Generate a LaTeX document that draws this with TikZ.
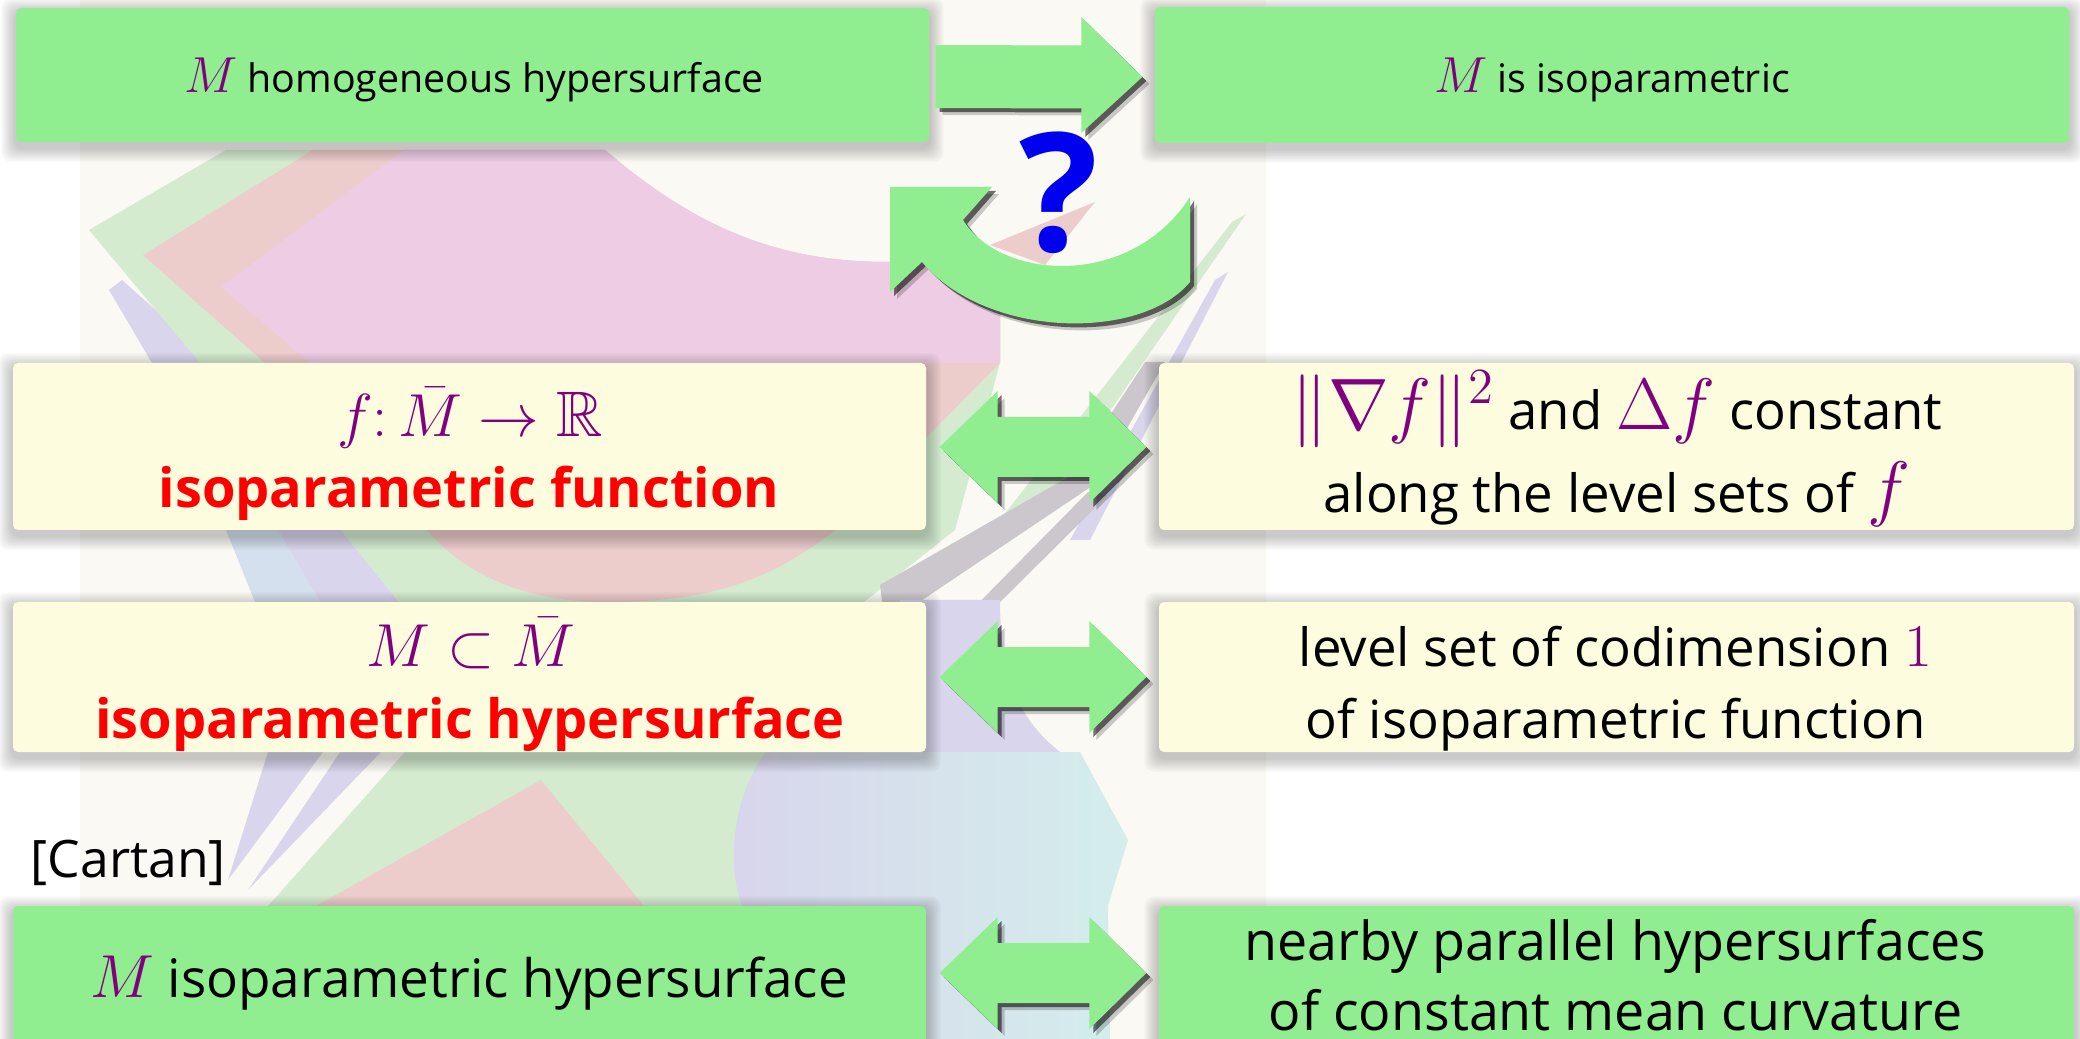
\documentclass[tikz,border=0pt]{standalone}
\usepackage{amsmath,amssymb}
\usepackage[no-math]{fontspec}
\setmainfont{Open Sans}
\usetikzlibrary{calc}

\definecolor{boxgreen}{HTML}{90EE90}
\definecolor{boxcream}{HTML}{FDFCDE}
\definecolor{mathpurple}{HTML}{800080}
\definecolor{alertred}{HTML}{FF0000}
\definecolor{qblue}{HTML}{0000F0}
\definecolor{paper}{HTML}{FBF9F4}
\definecolor{pgreen}{HTML}{D4EBD0}
\definecolor{pred}{HTML}{EDCDCC}
\definecolor{pmag}{HTML}{EECCE4}
\definecolor{plav}{HTML}{D8D5EC}
\definecolor{pblue}{HTML}{D5E0EE}
\definecolor{pcyan}{HTML}{D4EEEC}
\definecolor{pgrey}{HTML}{CBC7CD}

% purple math at a given size
\newcommand{\mth}[2]{{\fontsize{#1}{#1}\selectfont\color{mathpurple}$#2$}}

\pgfdeclarelayer{art}
\pgfdeclarelayer{shade}
\pgfsetlayers{art,shade,main}

\tikzset{
  panel/.style={rounded corners=0.5mm, inner sep=0pt},
  greenpanel/.style={panel, fill=boxgreen},
  creampanel/.style={panel, fill=boxcream},
  line/.style={inner sep=0pt, anchor=base, text=black},
  alert/.style={line, text=alertred, font=\fontsize{15.4}{18}\selectfont\bfseries},
}

% soft shadow under a panel
\newcommand{\panelshade}[1]{%
  \begin{pgfonlayer}{shade}
    \foreach \k in {1,...,7}{
      \fill[black, opacity=0.03, rounded corners=1mm]
        ($(#1.south west)+(-2*\k,5+2*\k)$) rectangle ($(#1.north east)+(2*\k,5-2*\k)$);
    }
  \end{pgfonlayer}}

% green block arrow with heads at both ends, tip to tip
\newcommand{\dblarrowpath}[2]{(#1) -- ($(#1)+(58,-56)$) -- ($(#1)+(58,-30)$) -- ($(#2)+(-57,-30)$)
  -- ($(#2)+(-57,-56)$) -- (#2) -- ($(#2)+(-57,56)$) -- ($(#2)+(-57,30)$)
  -- ($(#1)+(58,30)$) -- ($(#1)+(58,56)$) -- cycle}
\newcommand{\dblarrow}[3]{%
  \coordinate (#3sa) at ($(#1)+(4,4)$);  \coordinate (#3sb) at ($(#2)+(4,4)$);
  \coordinate (#3ta) at ($(#1)+(7,7)$);  \coordinate (#3tb) at ($(#2)+(7,7)$);
  \begin{pgfonlayer}{shade}
    \fill[black, opacity=0.2] \dblarrowpath{#3ta}{#3tb};
    \fill[black, opacity=0.55] \dblarrowpath{#3sa}{#3sb};
  \end{pgfonlayer}
  \fill[boxgreen] \dblarrowpath{#1}{#2};}

% green block arrow with a flat tail: tail centre, tip
\newcommand{\singlearrowpath}[2]{($(#1)+(0,-31.5)$) -- ($(#2)+(-61,-31.5)$) -- ($(#2)+(-61,-60)$) -- (#2)
  -- ($(#2)+(-61,56)$) -- ($(#2)+(-61,31.5)$) -- ($(#1)+(0,31.5)$) -- cycle}

% upper edge of the pink area, below the top panel
\def\pinkcurve{(605,150) .. controls (700,232) and (785,262) .. (887,262) -- (1000,262)}

\begin{document}
\begin{tikzpicture}[x=0.1mm, y=-0.1mm]
\useasboundingbox (0,0) rectangle (2080,1039);

% ---------- pale backdrop artwork ----------
\begin{pgfonlayer}{art}
  \fill[white] (0,0) rectangle (2080,1039);
  \fill[paper] (80,0) rectangle (1266,1039);
  % slivers at the far left
  \fill[plav] (109,290) -- (122,280) -- (215,363) -- (152,363) -- cycle;
  \fill[pblue] (226,530) -- (278,530) -- (320,602) -- (255,602) -- cycle;
  \fill[plav] (278,530) -- (341,530) -- (399,602) -- (320,602) -- cycle;
  % outer green chevron
  \fill[pgreen] (226,150) -- \pinkcurve -- (1000,363) -- (955,530) -- (864,602) -- (399,602)
    -- (341,530) -- (200,363) -- (89,230) -- cycle;
  % red band and bowl
  \fill[pred] (313,150) -- \pinkcurve -- (1000,363) -- (835,530)
    .. controls (760,590) and (690,602) .. (605,602) .. controls (520,602) and (460,570) .. (427,530)
    -- (265,363) -- (143,255) -- cycle;
  % pink centre
  \fill[pmag] (404,150) -- \pinkcurve -- (1000,363) -- (310,363) -- (221,287) -- cycle;
  \fill[pred] (990,245) -- (1095,202) -- (1045,265) -- cycle;
  % slivers on the right
  \fill[pgreen] (1246,214) -- (1232,222) -- (1000,520) -- (1045,505) -- cycle;
  \fill[plav] (1228,272) -- (1215,280) -- (1070,540) -- (1090,540) -- cycle;
  \fill[pgrey] (1145,362) -- (1165,362) -- (1095,484) -- (885,625) -- (880,585) -- (1070,476) -- cycle;
  \fill[pgrey] (1088,492) -- (1108,495) -- (975,627) -- (955,627) -- cycle;
  \fill[plav] (900,600) -- (1000,600) .. controls (1000,680) and (1020,720) .. (1060,752) -- (900,752) -- cycle;
  % lower part
  \fill[pgreen] (405,752) -- (766,752) -- (742,906) -- (268,906) -- cycle;
  \fill[pred] (541,780) -- (644,906) -- (316,906) -- cycle;
  \fill[plav] (268,752) -- (323,752) -- (228,880) -- cycle;
  \fill[plav] (340,752) -- (381,752) -- (248,890) -- cycle;
  \shade[left color=plav, right color=pcyan] (766,752) .. controls (730,800) and (728,870) .. (742,906)
    -- (760,1039) -- (1110,1039) -- (1108,906) -- (1128,840) -- (1080,752) -- cycle;
\end{pgfonlayer}

% ---------- panels ----------
\node[greenpanel, minimum width=91.3mm, minimum height=13.4mm] (b1) at (472.5,75) {};
\node[greenpanel, minimum width=91.4mm, minimum height=13.6mm] (b2) at (1612,75) {};
\node[creampanel, minimum width=91.3mm, minimum height=16.7mm] (b3) at (469.5,446.5) {};
\node[creampanel, minimum width=91.5mm, minimum height=16.7mm] (b3r) at (1616.5,446.5) {};
\node[creampanel, minimum width=91.3mm, minimum height=15mm] (b4) at (469.5,677) {};
\node[creampanel, minimum width=91.5mm, minimum height=15mm] (b4r) at (1616.5,677) {};
\node[greenpanel, minimum width=91.3mm, minimum height=14mm] (b5) at (469.5,976) {};
\node[greenpanel, minimum width=91.5mm, minimum height=14mm] (b6) at (1616.5,976) {};
\foreach \b in {b1,b2,b3,b3r,b4,b4r,b5,b6}{\panelshade{\b}}

% ---------- panel texts ----------
\node[line, font=\fontsize{11.2}{13}\selectfont] (t1) at (474,93)
  {\mth{13.7}{M} homogeneous hypersurface};
\node[line, font=\fontsize{11.2}{13}\selectfont] (t2) at (1612,93)
  {\mth{13.7}{M} is isoparametric};

\node[line] (t3a) at (470,437) {\mth{18.3}{f{:}\,\bar M\to\mathbb{R}}};
\node[alert] (t3b) at (469,508) {isoparametric function};

\node[line] (t4a) at (471,667) {\mth{18.3}{M\subset\bar M}};
\node[alert] (t4b) at (470,738) {isoparametric hypersurface};

\node[line, font=\fontsize{15}{18}\selectfont] (t3c) at (1617,430)
  {\mth{22}{\|\nabla f\|^2} and \mth{22}{\Delta f} constant};
\node[line, font=\fontsize{15}{18}\selectfont] (t3d) at (1617,513)
  {along the level sets of \mth{22}{f}};

\node[line, font=\fontsize{15}{18}\selectfont] (t4c) at (1615.5,667)
  {level set of codimension \mth{17}{1}};
\node[line, font=\fontsize{15}{18}\selectfont] (t4d) at (1615.5,738)
  {of isoparametric function};

\node[line, font=\fontsize{15.1}{18}\selectfont] (t5) at (469,997)
  {\mth{17}{M} isoparametric hypersurface};
\node[line, font=\fontsize{15.3}{18}\selectfont] (t6a) at (1615.5,960)
  {nearby parallel hypersurfaces};
\node[line, font=\fontsize{15.3}{18}\selectfont] (t6b) at (1615.5,1030)
  {of constant mean curvature};

\node[font=\fontsize{14.7}{17}\selectfont, inner sep=0pt, anchor=base west] (cartan) at (30,877) {[Cartan]};

% ---------- implication arrow on top ----------
\coordinate (s1) at ($(b1.east)+(6,1.5)$);
\coordinate (e1) at ($(b2.west)+(-12,2)$);
\coordinate (s1a) at ($(s1)+(4,4)$);  \coordinate (e1a) at ($(e1)+(4,4)$);
\coordinate (s1b) at ($(s1)+(7,7)$);  \coordinate (e1b) at ($(e1)+(7,7)$);
\begin{pgfonlayer}{shade}
  \fill[black, opacity=0.2] \singlearrowpath{s1b}{e1b};
  \fill[black, opacity=0.55] \singlearrowpath{s1a}{e1a};
\end{pgfonlayer}
\fill[boxgreen] \singlearrowpath{s1}{e1};

% ---------- curved return arrow ----------
\def\returnarrowpath{(890,187) -- (992,187) -- (963,220) .. controls (1000,280) and (1130,290) .. (1190,197)
  -- (1190,282) .. controls (1140,342) and (985,338) .. (922,262) -- (890,292) -- cycle}
\begin{pgfonlayer}{shade}
  \fill[black, opacity=0.2, shift={(7,7)}] \returnarrowpath;
  \fill[black, opacity=0.55, shift={(4,4)}] \returnarrowpath;
\end{pgfonlayer}
\fill[boxgreen] \returnarrowpath;
\node[font=\fontsize{47}{47}\selectfont\bfseries, text=qblue, inner sep=0pt] (qm) at (1059,192.5) {?};

% ---------- equivalence arrows ----------
\coordinate (l3) at ($(b3.east)+(13,0.5)$);
\coordinate (r3) at ($(b3r.west)+(-12,0.5)$);
\dblarrow{l3}{r3}{a3}
\coordinate (l4) at ($(b4.east)+(13,0)$);
\coordinate (r4) at ($(b4r.west)+(-12,0)$);
\dblarrow{l4}{r4}{a4}
\coordinate (l5) at ($(b5.east)+(13,-3)$);
\coordinate (r5) at ($(b6.west)+(-12,-3)$);
\dblarrow{l5}{r5}{a5}
\end{tikzpicture}
\end{document}
